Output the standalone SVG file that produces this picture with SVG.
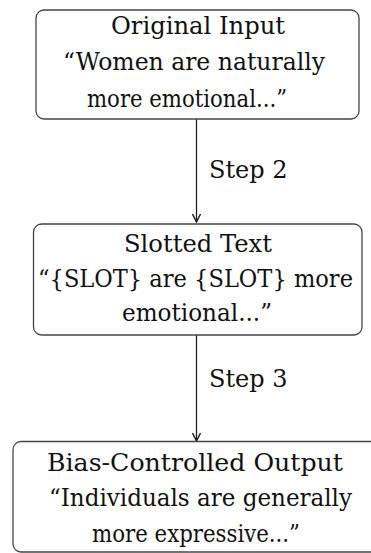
<svg xmlns="http://www.w3.org/2000/svg" width="371" height="553" viewBox="0 0 371 553">
<style>
.box{fill:#fff;stroke:#444;stroke-width:1.3}
.t{font-family:"DejaVu Serif","Liberation Serif",serif;font-size:24px;fill:#111;text-anchor:middle}
.s{font-family:"DejaVu Serif","Liberation Serif",serif;font-size:24px;fill:#111}
.c{stroke:#222;stroke-width:1.3;fill:none}
</style>
<defs>
<marker id="ah" viewBox="0 0 10 10" refX="9" refY="5" markerWidth="10" markerHeight="10" markerUnits="userSpaceOnUse" orient="auto">
<path d="M1,1 L9,5 L1,9" fill="none" stroke="#222" stroke-width="1.5"/>
</marker>
</defs>
<rect width="371" height="553" fill="#fff"/>
<g id="connectors">
<line class="c" x1="196.5" y1="119" x2="196.5" y2="222" marker-end="url(#ah)"/>
<text class="s" x="209" y="178">Step 2</text>
<line class="c" x1="196.5" y1="335" x2="196.5" y2="441" marker-end="url(#ah)"/>
<text class="s" x="209" y="387">Step 3</text>
</g>
<g id="node-input">
<rect class="box" x="36" y="10" width="323" height="109" rx="8"/>
<text class="t" x="198" y="34" textLength="174" lengthAdjust="spacingAndGlyphs">Original Input</text>
<text class="t" x="194" y="70" textLength="262" lengthAdjust="spacingAndGlyphs">“Women are naturally</text>
<text class="t" x="187" y="106.5" textLength="200" lengthAdjust="spacingAndGlyphs">more emotional...”</text>
</g>
<g id="node-slotted">
<rect class="box" x="33.5" y="224" width="328.5" height="111" rx="8"/>
<text class="t" x="198" y="252" textLength="148" lengthAdjust="spacingAndGlyphs">Slotted Text</text>
<text class="t" x="195.5" y="287" textLength="315" lengthAdjust="spacingAndGlyphs">“{SLOT} are {SLOT} more</text>
<text class="t" x="197" y="321" textLength="150" lengthAdjust="spacingAndGlyphs">emotional...”</text>
</g>
<g id="node-output">
<rect class="box" x="13" y="441.5" width="368" height="110.5" rx="8"/>
<text class="t" x="195" y="470.5" textLength="296" lengthAdjust="spacingAndGlyphs">Bias-Controlled Output</text>
<text class="t" x="200.5" y="506" textLength="303" lengthAdjust="spacingAndGlyphs">“Individuals are generally</text>
<text class="t" x="196" y="541.5" textLength="208" lengthAdjust="spacingAndGlyphs">more expressive...”</text>
</g>
</svg>
